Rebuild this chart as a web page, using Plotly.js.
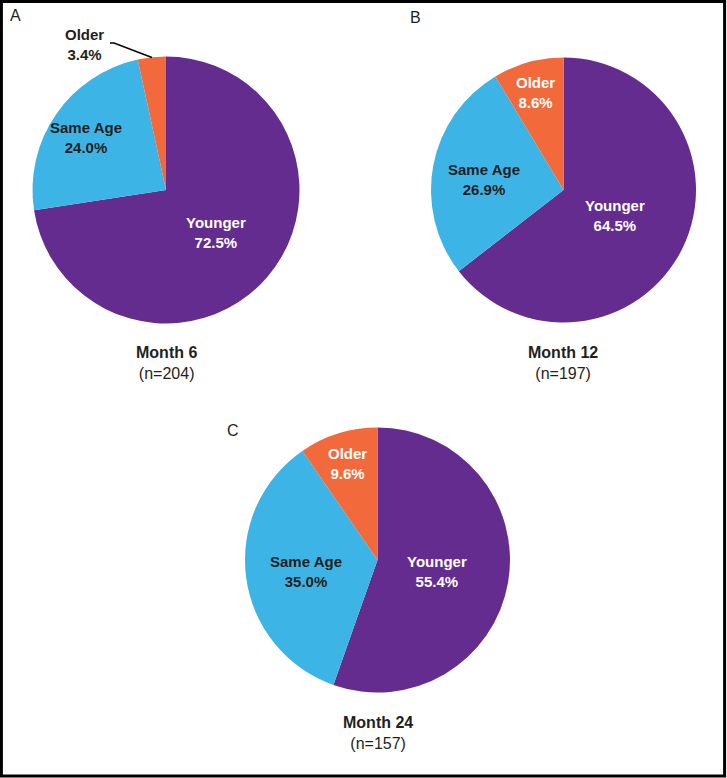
<!DOCTYPE html>
<html>
<head>
<meta charset="utf-8">
<script src="https://cdn.plot.ly/plotly-3.0.1.min.js"></script>
<style>html,body{margin:0;padding:0;background:#fff;}#chart{width:727px;height:778px;}</style>
</head>
<body>
<div id="chart"></div>
<script>
// ---- data ----
const categories = ['Younger', 'Same Age', 'Older'];
const month6 = [72.5, 24.0, 3.4];
const month12 = [64.5, 26.9, 8.6];
const month24 = [55.4, 35.0, 9.6];
const panelLetters = ['A', 'B', 'C'];
const monthTitles = ['Month 6', 'Month 12', 'Month 24'];
const sampleSizes = [204, 197, 157];

// ---- layout helpers (pixel geometry) ----
const W = 727, H = 778;
const px = x => x / W;
const py = y => 1 - y / H;
const colors = ['#652C90', '#3DB4E6', '#F26A3B'];
const dark = '#231F20';
const FONT = 'Liberation Sans, Arial, sans-serif';

// pie geometry: [cx, cy, r]
const pies = [[166, 190, 133.5], [563.5, 190, 132.5], [377.5, 560, 132.5]];
const seriesList = [month6, month12, month24];
// label centres (pixels) per slice
const labelPos = [
  [[216, 232], [86, 138], [84, 44]],
  [[615, 215], [484, 179], [535, 92]],
  [[437, 571], [306, 571], [347, 463]]
];
const labelColors = [
  ['#fff', dark, dark],
  ['#fff', dark, '#fff'],
  ['#fff', dark, '#fff']
];
const letterPos = [[15.5, 15.5], [415, 17], [233, 430]];
const titlePos = [[166, 363], [563, 363], [378, 733]];

const traces = seriesList.map((vals, i) => {
  const [cx, cy, r] = pies[i];
  return {
    type: 'pie',
    labels: categories,
    values: vals,
    sort: false,
    direction: 'clockwise',
    rotation: 0,
    textinfo: 'none',
    hoverinfo: 'label+percent',
    showlegend: false,
    marker: {colors: colors, line: {width: 0}},
    domain: {x: [px(cx - r), px(cx + r)], y: [py(cy + r), py(cy - r)]}
  };
});

const annotations = [];
seriesList.forEach((vals, i) => {
  vals.forEach((v, j) => {
    const [x, y] = labelPos[i][j];
    annotations.push({
      xref: 'paper', yref: 'paper', x: px(x), y: py(y),
      xanchor: 'center', yanchor: 'middle', showarrow: false,
      text: '<b>' + categories[j] + '<br>' + v.toFixed(1) + '%</b>',
      font: {family: FONT, size: 15, color: labelColors[i][j]}
    });
  });
  annotations.push({
    xref: 'paper', yref: 'paper', x: px(letterPos[i][0]), y: py(letterPos[i][1]),
    xanchor: 'center', yanchor: 'middle', showarrow: false,
    text: panelLetters[i], font: {family: FONT, size: 16, color: dark}
  });
  annotations.push({
    xref: 'paper', yref: 'paper', x: px(titlePos[i][0]), y: py(titlePos[i][1]),
    xanchor: 'center', yanchor: 'middle', showarrow: false,
    text: '<b>' + monthTitles[i] + '</b><br>(n=' + sampleSizes[i] + ')',
    font: {family: FONT, size: 16, color: dark}
  });
});

const shapes = [
  {type: 'rect', xref: 'paper', yref: 'paper', x0: px(1.4), x1: px(724.6), y0: py(776), y1: py(1.4),
   line: {color: '#000', width: 3}},
  {type: 'path', xref: 'paper', yref: 'paper',
   path: 'M ' + px(110) + ',' + py(43) + ' L ' + px(114) + ',' + py(43) + ' L ' + px(152) + ',' + py(57.5),
   line: {color: '#000', width: 1.5}}
];

Plotly.newPlot('chart', traces, {
  width: W, height: H,
  margin: {l: 0, r: 0, t: 0, b: 0},
  paper_bgcolor: '#fff',
  annotations: annotations,
  shapes: shapes
}, {displayModeBar: false, staticPlot: true});
</script>
</body>
</html>
